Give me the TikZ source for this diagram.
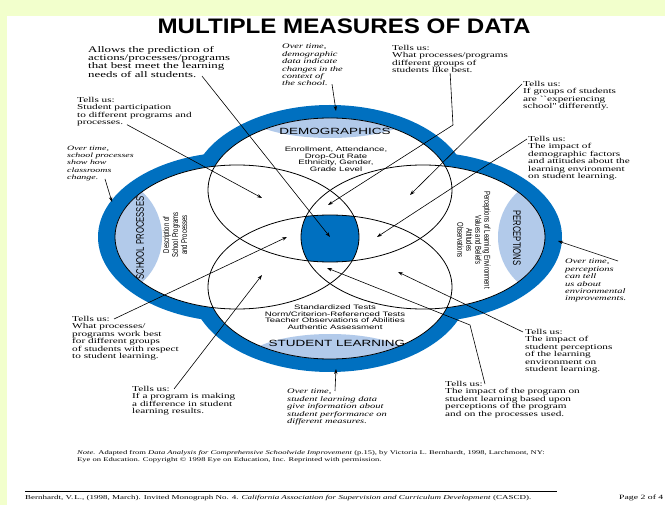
\documentclass[tikz,border=0pt]{standalone}
\usepackage{fontspec}
\setmainfont{Liberation Serif}
\newfontfamily\notefont[FakeStretch=1.5]{Liberation Serif}
\newfontfamily\labfont[FakeStretch=1.5]{Liberation Sans}
\newfontfamily\sidefont[FakeStretch=0.7]{Liberation Sans}
\newfontfamily\headfont[FakeStretch=1.15]{Liberation Sans}
\usetikzlibrary{arrows.meta}
\definecolor{ringblue}{RGB}{0,112,192}
\definecolor{lensblue}{RGB}{178,202,234}
\definecolor{pagebg}{RGB}{242,255,204}

\begin{document}
\begin{tikzpicture}[
  x=1pt, y=-1pt,
  ring/.style={fill=ringblue},
  lens/.style={fill=lensblue},
  loop/.style={draw=black, line width=0.8pt},
  tell/.style={anchor=north west, inner sep=0pt, align=left, font=\notefont\fontsize{7.5}{7.5}\selectfont},
  overtime/.style={tell, font=\notefont\itshape\fontsize{7}{7.4}\selectfont},
  lab/.style={inner sep=0pt, font=\labfont\fontsize{9}{9}\selectfont},
  items/.style={inner sep=0pt, align=center, font=\labfont\fontsize{6.4}{6.5}\selectfont},
  side/.style={inner sep=0pt, font=\sidefont\fontsize{11}{11}\selectfont},
  sideitems/.style={inner sep=0pt, align=center, font=\sidefont\fontsize{8.5}{9}\selectfont},
  ar/.style={-{Stealth[length=5pt,width=3.4pt]}, line width=0.6pt},
]

\fill[pagebg] (0,0) rectangle (665,505);
\fill[white] (7,16) rectangle (665,505);
\useasboundingbox (0,0) rectangle (665,505);

\node[anchor=north, inner sep=0pt, font=\headfont\bfseries\fontsize{21}{21}\selectfont] (title) at (344,19) {MULTIPLE MEASURES OF DATA};

\coordinate (cL) at (237,237);
\coordinate (cR) at (423,237);
\coordinate (cT) at (330,190);
\coordinate (cB) at (330,287);

\foreach \c in {cL,cR,cT,cB}
  \fill[ring] (\c) ellipse [x radius=139pt, y radius=85pt];
\foreach \c in {cL,cR,cT,cB}
  \fill[white] (\c) ellipse [x radius=122pt, y radius=72pt];

\begin{scope}
  \clip (cT) ellipse [x radius=122pt, y radius=72pt];
  \fill[lens] (330,110) ellipse [x radius=88pt, y radius=28pt];
\end{scope}
\begin{scope}
  \clip (cB) ellipse [x radius=122pt, y radius=72pt];
  \fill[lens] (330,364) ellipse [x radius=88pt, y radius=30pt];
\end{scope}
\begin{scope}
  \clip (cL) ellipse [x radius=122pt, y radius=72pt];
  \fill[lens] (104,237) ellipse [x radius=58pt, y radius=60pt];
\end{scope}
\begin{scope}
  \clip (cR) ellipse [x radius=122pt, y radius=72pt];
  \fill[lens] (556,237) ellipse [x radius=58pt, y radius=60pt];
\end{scope}
\begin{scope}
  \clip (cL) ellipse [x radius=122pt, y radius=72pt];
  \clip (cR) ellipse [x radius=122pt, y radius=72pt];
  \clip (cT) ellipse [x radius=122pt, y radius=72pt];
  \fill[ring] (cB) ellipse [x radius=122pt, y radius=72pt];
\end{scope}

\foreach \c in {cL,cR,cT,cB}
  \draw[loop] (\c) ellipse [x radius=122pt, y radius=72pt];

\node[lab] (demo) at (335,131) {DEMOGRAPHICS};
\node[items] (demoitems) at (336,159) {Enrollment, Attendance,\\Drop-Out Rate\\Ethnicity, Gender,\\Grade Level};
\node[lab] (learn) at (337,343) {STUDENT LEARNING};
\node[items] (learnitems) at (335,317) {Standardized Tests\\Norm/Criterion-Referenced Tests\\Teacher Observations of Abilities\\Authentic Assessment};
\node[side, rotate=90] (school) at (140,238) {SCHOOL PROCESSES};
\node[sideitems, rotate=90] (schoolitems) at (175,235) {Description of\\School Programs\\and Processes};
\node[side, rotate=-90] (perc) at (517,238) {PERCEPTIONS};
\node[sideitems, rotate=-90] (percitems) at (474,240) {Perceptions of Learning Environment\\Values and Beliefs\\Attitudes\\Observations};

\node[tell, font=\notefont\fontsize{8.6}{7.8}\selectfont] (a1) at (88,46) {Allows the prediction of\\actions/processes/programs\\that best meet the learning\\needs of all students.};
\node[tell] (a2) at (77,97) {Tells us:\\Student participation\\to different programs and\\processes.};
\node[overtime, font=\notefont\itshape\fontsize{6.6}{7.2}\selectfont] (a3) at (67,146) {Over time,\\school processes\\show how\\classrooms\\change.};
\node[overtime] (a4) at (282,44) {Over time,\\demographic\\data indicate\\changes in the\\context of\\the school.};
\node[tell] (a5) at (392,45) {Tells us:\\What processes/programs\\different groups of\\students like best.};
\node[tell] (a6) at (523,81) {Tells us:\\If groups of students\\are ``experiencing\\school'' differently.};
\node[tell] (a7) at (528,136) {Tells us:\\The impact of\\demographic factors\\and attitudes about the\\learning environment\\on student learning.};
\node[overtime] (a8) at (565,259) {Over time,\\perceptions\\can tell\\us about\\environmental\\improvements.};
\node[tell] (a9) at (525,329) {Tells us:\\The impact of\\student perceptions\\of the learning\\environment on\\student learning.};
\node[tell] (a10) at (445,381) {Tells us:\\The impact of the program on\\student learning based upon\\perceptions of the program\\and on the processes used.};
\node[tell] (a11) at (72,316) {Tells us:\\What processes/\\programs work best\\for different groups\\of students with respect\\to student learning.};
\node[tell] (a12) at (132,386) {Tells us:\\If a program is making\\a difference in student\\learning results.};
\node[overtime] (a13) at (287,389) {Over time,\\student learning data\\give information about\\student performance on\\different measures.};

\coordinate (t1) at (330,237);
\coordinate (t2) at (262,198);
\coordinate (t3) at (112,202);
\coordinate (t4) at (336,111);
\coordinate (k5) at (453,125);
\coordinate (t5) at (328,205);
\coordinate (t6) at (410,195);
\coordinate (t7) at (377,237);
\coordinate (t8) at (558,241);
\coordinate (t9) at (398,272);
\coordinate (k10) at (470,325);
\coordinate (t10) at (327,268);
\coordinate (t11) at (287,237);
\coordinate (t12) at (262,275);
\coordinate (t13) at (336,369);

\draw[ar] ([shift={(114,-2)}]a1.south west) -- (t1);
\draw[ar] ([shift={(50,-2)}]a2.south west) -- (t2);
\draw[ar] ([shift={(38,-2)}]a3.south west) -- (t3);
\draw[ar] ([shift={(50,-2)}]a4.south west) -- (t4);
\draw[ar] (a5.south) -- (k5) -- (t5);
\draw[ar] ([shift={(-1,3)}]a6.north west) -- (t6);
\draw[ar] ([shift={(-1,3)}]a7.north west) -- (t7);
\draw[ar] ([shift={(53,2)}]a8.north west) -- (t8);
\draw[ar] ([shift={(-2,3)}]a9.north west) -- (t9);
\draw[ar] ([shift={(40,3)}]a10.north west) -- (k10) -- (t10);
\draw[ar] ([shift={(42,3)}]a11.north west) -- (t11);
\draw[ar] ([shift={(42,3)}]a12.north west) -- (t12);
\draw[ar] ([shift={(48,2)}]a13.north west) -- (t13);

\node[anchor=north west, inner sep=0pt, align=left, font=\notefont\fontsize{5.7}{7}\selectfont] (note) at (77,450) {\textit{Note.} Adapted from \textit{Data Analysis for Comprehensive Schoolwide Improvement} (p.15), by Victoria L. Bernhardt, 1998, Larchmont, NY:\\Eye on Education. Copyright \textcopyright{} 1998 Eye on Education, Inc. Reprinted with permission.};
\draw[line width=0.6pt] (25,491) -- (557,491);
\node[anchor=west, inner sep=0pt, font=\notefont\fontsize{6}{6}\selectfont] (foot) at (25,498) {Bernhardt, V.\,L., (1998, March). Invited Monograph No. 4. \textit{California Association for Supervision and Curriculum Development} (CASCD).};
\node[anchor=west, inner sep=0pt, font=\notefont\fontsize{6.5}{6.5}\selectfont] (page) at (619,498) {Page 2 of 4};

\end{tikzpicture}
\end{document}
